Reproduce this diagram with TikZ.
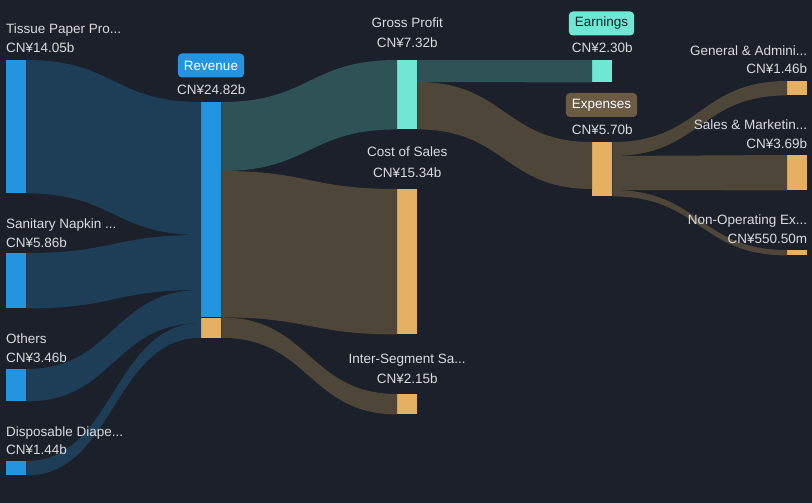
\documentclass[tikz,border=0pt]{standalone}
\usepackage{fontspec}
\setmainfont{Liberation Sans}
\usetikzlibrary{positioning}
\definecolor{bgnavy}{HTML}{1B202B}
\definecolor{barblue}{HTML}{2394DF}
\definecolor{barteal}{HTML}{6EE7D4}
\definecolor{barorange}{HTML}{E5B061}
\definecolor{flowblue}{HTML}{1E3E57}
\definecolor{flowteal}{HTML}{2F5256}
\definecolor{flowbrown}{HTML}{4E4639}
\definecolor{badgebrown}{HTML}{6B5A44}
\definecolor{lbltext}{HTML}{D9DBDF}
\begin{document}
\begin{tikzpicture}[x=1pt, y=-1pt,
                bar/.style={rectangle, draw=none, inner sep=0pt, minimum width=20pt, anchor=north west},
                lbl/.style={text=lbltext, inner sep=0pt, font=\fontsize{13.5}{16}\selectfont},
                badge/.style={rectangle, rounded corners=4pt, inner xsep=6pt, inner ysep=0pt, minimum height=24pt, font=\fontsize{13.5}{16}\selectfont},
                bandblue/.style={fill=flowblue},
                bandteal/.style={fill=flowteal},
                bandbrown/.style={fill=flowbrown}
            ]
            \fill[bgnavy] (0,0) rectangle (812,503);
            % bars
            \node (tissue) [bar, fill=barblue, minimum height=133pt] at (6,60) {};
            \node (napkin) [bar, fill=barblue, minimum height=55pt] at (6,253) {};
            \node (others) [bar, fill=barblue, minimum height=32pt] at (6,369) {};
            \node (diaper) [bar, fill=barblue, minimum height=14pt] at (6,461) {};
            \node (rev) [bar, fill=barblue, minimum height=215pt] at (201,102) {};
            \node (revseg) [bar, fill=barorange, minimum height=20pt] at (rev.south west) {};
            \node (gross) [bar, fill=barteal, minimum height=69pt] at (397,60) {};
            \node (cost) [bar, fill=barorange, minimum height=145pt] at (397,189) {};
            \node (inter) [bar, fill=barorange, minimum height=20pt] at (397,394) {};
            \node (earn) [bar, fill=barteal, minimum height=22pt] at (592,60) {};
            \node (exps) [bar, fill=barorange, minimum height=54pt] at (592,142) {};
            \node (admin) [bar, fill=barorange, minimum height=14pt] at (787,81) {};
            \node (sales) [bar, fill=barorange, minimum height=35pt] at (787,155) {};
            \node (nonop) [bar, fill=barorange, minimum height=5pt] at (787,250) {};
            % bands into revenue
            \fill[bandblue] (tissue.north east) .. controls +(88,0) and +(-88,0) .. (rev.north west)
                -- ([yshift=-133]rev.north west) .. controls +(-88,0) and +(88,0) .. (tissue.south east) -- cycle;
            \fill[bandblue] (napkin.north east) .. controls +(88,0) and +(-88,0) .. ([yshift=-133]rev.north west)
                -- ([yshift=-188]rev.north west) .. controls +(-88,0) and +(88,0) .. (napkin.south east) -- cycle;
            \fill[bandblue] (others.north east) .. controls +(88,0) and +(-88,0) .. ([yshift=-188]rev.north west)
                -- ([yshift=-221]rev.north west) .. controls +(-88,0) and +(88,0) .. (others.south east) -- cycle;
            \fill[bandblue] (diaper.north east) .. controls +(88,0) and +(-88,0) .. ([yshift=-221]rev.north west)
                -- (revseg.south west) .. controls +(-88,0) and +(88,0) .. (diaper.south east) -- cycle;
            % bands out of revenue
            \fill[bandteal] (rev.north east) .. controls +(88,0) and +(-88,0) .. (gross.north west)
                -- (gross.south west) .. controls +(-88,0) and +(88,0) .. ([yshift=-69]rev.north east) -- cycle;
            \fill[bandbrown] ([yshift=-69]rev.north east) .. controls +(88,0) and +(-88,0) .. (cost.north west)
                -- (cost.south west) .. controls +(-88,0) and +(88,0) .. (rev.south east) -- cycle;
            \fill[bandbrown] (revseg.north east) .. controls +(88,0) and +(-88,0) .. (inter.north west)
                -- (inter.south west) .. controls +(-88,0) and +(88,0) .. (revseg.south east) -- cycle;
            % bands out of gross profit
            \fill[bandteal] (gross.north east) -- (earn.north west) -- (earn.south west) -- ([yshift=-22]gross.north east) -- cycle;
            \fill[bandbrown] ([yshift=-22]gross.north east) .. controls +(88,0) and +(-88,0) .. (exps.north west)
                -- ([yshift=-47]exps.north west) .. controls +(-88,0) and +(88,0) .. (gross.south east) -- cycle;
            % bands out of expenses
            \fill[bandbrown] (exps.north east) .. controls +(88,0) and +(-88,0) .. (admin.north west)
                -- (admin.south west) .. controls +(-88,0) and +(88,0) .. ([yshift=-14]exps.north east) -- cycle;
            \fill[bandbrown] ([yshift=-14]exps.north east) .. controls +(88,0) and +(-88,0) .. (sales.north west)
                -- (sales.south west) .. controls +(-88,0) and +(88,0) .. ([yshift=-48]exps.north east) -- cycle;
            \fill[bandbrown] ([yshift=-48]exps.north east) .. controls +(88,0) and +(-88,0) .. (nonop.north west)
                -- (nonop.south west) .. controls +(-88,0) and +(88,0) .. (exps.south east) -- cycle;
            % labels
            \node (tissuev) [lbl, anchor=base west] at ([yshift=7]tissue.north west) {CN¥14.05b};
            \node (tissuen) [lbl, anchor=base west] at ([yshift=19]tissuev.base west) {Tissue Paper Pro...};
            \node (napkinv) [lbl, anchor=base west] at ([yshift=6]napkin.north west) {CN¥5.86b};
            \node (napkinn) [lbl, anchor=base west] at ([yshift=19]napkinv.base west) {Sanitary Napkin ...};
            \node (othersv) [lbl, anchor=base west] at ([yshift=7]others.north west) {CN¥3.46b};
            \node (othersn) [lbl, anchor=base west] at ([yshift=19]othersv.base west) {Others};
            \node (diaperv) [lbl, anchor=base west] at ([yshift=7]diaper.north west) {CN¥1.44b};
            \node (diapern) [lbl, anchor=base west] at ([yshift=18]diaperv.base west) {Disposable Diape...};
            \node (revv) [lbl, anchor=base] at ([yshift=7]rev.north) {CN¥24.82b};
            \node (revn) [badge, fill=barblue, text=white] at (211,65.5) {Revenue};
            \node (grossv) [lbl, anchor=base] at ([yshift=12]gross.north) {CN¥7.32b};
            \node (grossn) [lbl, anchor=base] at ([yshift=20]grossv.base) {Gross Profit};
            \node (costv) [lbl, anchor=base] at ([yshift=12]cost.north) {CN¥15.34b};
            \node (costn) [lbl, anchor=base] at ([yshift=20]costv.base) {Cost of Sales};
            \node (interv) [lbl, anchor=base] at ([yshift=11]inter.north) {CN¥2.15b};
            \node (intern) [lbl, anchor=base] at ([yshift=20]interv.base) {Inter-Segment Sa...};
            \node (earnv) [lbl, anchor=base] at ([yshift=7]earn.north) {CN¥2.30b};
            \node (earnn) [badge, fill=barteal, text=bgnavy] at (601.5,23.5) {Earnings};
            \node (expsv) [lbl, anchor=base] at ([yshift=7]exps.north) {CN¥5.70b};
            \node (expsn) [badge, fill=badgebrown, text=white] at (601.5,105) {Expenses};
            \node (adminv) [lbl, anchor=base east] at ([yshift=7]admin.north east) {CN¥1.46b};
            \node (adminn) [lbl, anchor=base east] at ([yshift=18]adminv.base east) {General \& Admini...};
            \node (salesv) [lbl, anchor=base east] at ([yshift=7]sales.north east) {CN¥3.69b};
            \node (salesn) [lbl, anchor=base east] at ([yshift=19]salesv.base east) {Sales \& Marketin...};
            \node (nonopv) [lbl, anchor=base east] at ([yshift=7]nonop.north east) {CN¥550.50m};
            \node (nonopn) [lbl, anchor=base east] at ([yshift=19]nonopv.base east) {Non-Operating Ex...};
\end{tikzpicture}
\end{document}
